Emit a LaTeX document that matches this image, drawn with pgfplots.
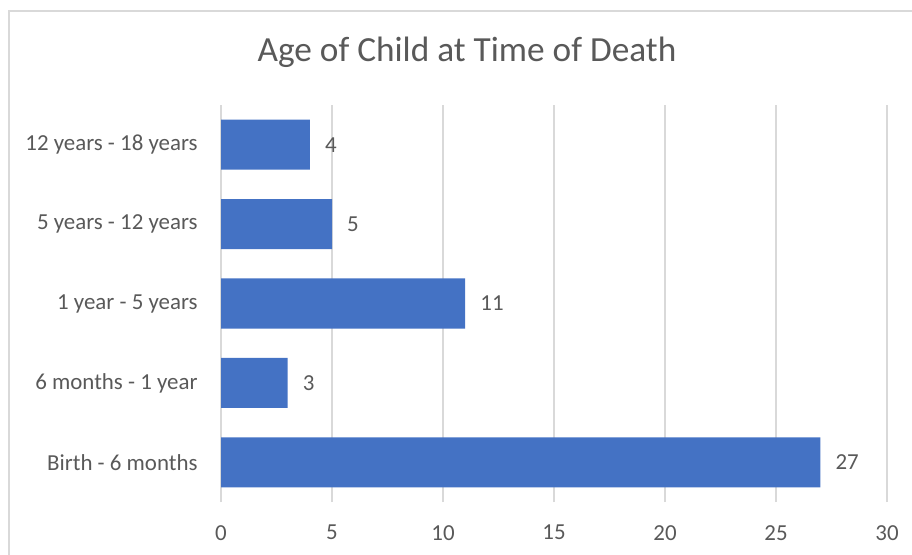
\documentclass[border=0pt]{standalone}
\usepackage{pgfplots}
\pgfplotsset{compat=1.18}
\usepackage{fontspec}
\setmainfont{Carlito}
\definecolor{barblue}{HTML}{4472C4}
\definecolor{textgray}{HTML}{595959}
\definecolor{gridgray}{HTML}{D9D9D9}
\begin{document}
\begin{tikzpicture}
\useasboundingbox (0,0) rectangle (912bp,555bp);
\draw[gridgray, line width=1.2bp] (9bp,-5bp) -- (9bp,544bp) -- (920bp,544bp);
\node[text=textgray, font=\fontsize{35.3bp}{40bp}\selectfont, inner sep=0pt] at (467bp,503bp) {Age of Child at Time of Death};
\begin{axis}[
  at={(221bp,53bp)}, anchor=south west,
  scale only axis, width=666bp, height=397bp,
  xbar, bar width=50bp,
  xmin=0, xmax=30, xtick={0,5,...,30},
  ymin=-0.5, ymax=4.5, ytick={0,1,2,3,4},
  yticklabels={Birth - 6 months, 6 months - 1 year, 1 year - 5 years, 5 years - 12 years, 12 years - 18 years},
  axis line style={draw=none},
  tick style={draw=none},
  xmajorgrids, major grid style={gridgray, line width=1.2bp},
  /pgf/number format/assume math mode=true,
  ticklabel style={text=textgray, font=\fontsize{22.9bp}{27bp}\selectfont},
  yticklabel style={anchor=east, inner sep=0pt, xshift=-19bp},
  xticklabel style={anchor=north, inner sep=0pt, yshift=-23bp},
  nodes near coords,
  nodes near coords style={anchor=west, inner sep=0pt, xshift=15bp, text=textgray, font=\fontsize{22.9bp}{27bp}\selectfont},
]
\addplot[fill=barblue, draw=none] coordinates {(27,0) (3,1) (11,2) (5,3) (4,4)};
\end{axis}
\end{tikzpicture}
\end{document}
